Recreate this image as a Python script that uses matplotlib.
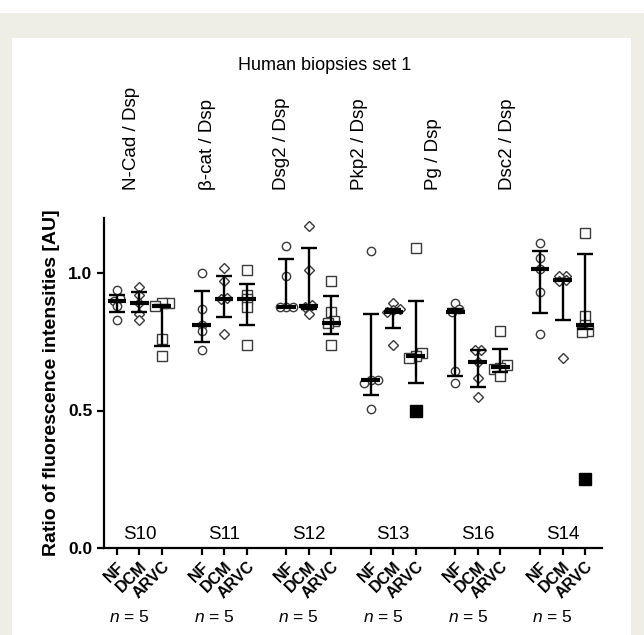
import matplotlib
matplotlib.use("Agg")
import matplotlib.pyplot as plt
import matplotlib.transforms as mtransforms
from matplotlib.patches import Rectangle
import numpy as np

plt.rcParams['font.family'] = ['Liberation Sans', 'DejaVu Sans']
plt.rcParams['mathtext.fontset'] = 'custom'
plt.rcParams['mathtext.it'] = 'Liberation Sans:italic'
plt.rcParams['mathtext.rm'] = 'Liberation Sans'

# Data
samples = ['S10', 'S11', 'S12', 'S13', 'S16', 'S14']
ratios = ['N-Cad / Dsp', 'β-cat / Dsp', 'Dsg2 / Dsp', 'Pkp2 / Dsp', 'Pg / Dsp', 'Dsc2 / Dsp']
conditions = ['NF', 'DCM', 'ARVC']

nf_values = [
    [0.94, 0.91, 0.90, 0.88, 0.83],
    [1.00, 0.87, 0.81, 0.79, 0.72],
    [1.10, 0.99, 0.875, 0.875, 0.875],
    [1.08, 0.61, 0.61, 0.60, 0.505],
    [0.89, 0.87, 0.86, 0.645, 0.60],
    [1.11, 1.055, 1.015, 0.93, 0.78],
]
dcm_values = [
    [0.95, 0.92, 0.89, 0.85, 0.83],
    [1.02, 0.97, 0.91, 0.905, 0.78],
    [1.17, 1.01, 0.885, 0.875, 0.85],
    [0.89, 0.87, 0.865, 0.86, 0.74],
    [0.72, 0.72, 0.675, 0.62, 0.55],
    [0.99, 0.99, 0.975, 0.97, 0.69],
]
arvc_values = [
    [0.89, 0.89, 0.88, 0.76, 0.70],
    [1.01, 0.92, 0.905, 0.875, 0.74],
    [0.97, 0.86, 0.825, 0.82, 0.74],
    [1.09, 0.71, 0.70, 0.69],
    [0.79, 0.665, 0.655, 0.65, 0.625],
    [1.145, 0.845, 0.81, 0.79, 0.785],
]
# filled squares (ARVC) shown separately
arvc_filled = [None, None, None, 0.50, None, 0.25]

# median and error bar limits, per sample: NF, DCM, ARVC
medians = [
    [0.90, 0.89, 0.88],
    [0.81, 0.905, 0.905],
    [0.875, 0.88, 0.82],
    [0.61, 0.86, 0.70],
    [0.86, 0.675, 0.66],
    [1.015, 0.975, 0.81],
]
err_low = [
    [0.86, 0.86, 0.735],
    [0.75, 0.84, 0.81],
    [0.875, 0.87, 0.78],
    [0.555, 0.80, 0.60],
    [0.625, 0.585, 0.64],
    [0.855, 0.83, 0.795],
]
err_high = [
    [0.92, 0.93, 0.885],
    [0.935, 0.99, 0.96],
    [1.05, 1.09, 0.915],
    [0.85, 0.87, 0.90],
    [0.87, 0.72, 0.725],
    [1.08, 0.98, 1.07],
]

markers = ['o', 'D', 's']
msizes = [6, 5.5, 6.5]
group_step = 3.77


def swarm(vals, tol=0.012, step=0.3):
    # spread points that overlap vertically
    vals = np.asarray(vals)
    order = np.argsort(vals)
    offs = np.zeros(len(vals))
    clusters = [[order[0]]]
    for k in order[1:]:
        if vals[k] - vals[clusters[-1][-1]] < tol:
            clusters[-1].append(k)
        else:
            clusters.append([k])
    for c in clusters:
        n = len(c)
        for j, k in enumerate(c):
            offs[k] = (j - (n - 1) / 2) * step
    return offs


fig = plt.figure(figsize=(6.44, 6.35), dpi=100)
W, H = 644, 635
fig.patches.append(Rectangle((0, 0), 1, (H - 13) / H, transform=fig.transFigure,
                             facecolor='#eeeee6', edgecolor='none', zorder=-10))
fig.patches.append(Rectangle((12 / W, 0), (631 - 12) / W, (H - 38) / H, transform=fig.transFigure,
                             facecolor='white', edgecolor='none', zorder=-9))

ax = fig.add_axes([104 / W, (H - 548) / H, 498 / W, 330 / H])
ax.set_facecolor('none')

all_vals = [nf_values, dcm_values, arvc_values]
xticks = []
for g in range(len(samples)):
    for i in range(3):
        x = g * group_step + i
        xticks.append(x)
        vals = all_vals[i][g]
        xo = x + swarm(vals)
        ax.plot(xo, vals, linestyle='none', marker=markers[i], ms=msizes[i],
                mfc='white', mec='#3a3a3a', mew=1.0, zorder=2)
        med = medians[g][i]
        ax.errorbar(x, med, yerr=[[med - err_low[g][i]], [err_high[g][i] - med]],
                    fmt='none', ecolor='black', elinewidth=1.7, capsize=6, capthick=1.7, zorder=3)
        ax.plot([x - 0.42, x + 0.42], [med, med], color='black', lw=3,
                solid_capstyle='butt', zorder=4)
    if arvc_filled[g] is not None:
        ax.plot(g * group_step + 2, arvc_filled[g], linestyle='none', marker='s',
                ms=9, color='black', zorder=4)
    ax.text(g * group_step + 1, 0.05, samples[g], ha='center', va='center', fontsize=13.5)

ax.set_ylim(0, 1.2)
ax.set_xlim(-0.58, 5 * group_step + 2 + 0.76)
ax.set_yticks([0, 0.5, 1.0])
ax.set_yticklabels(['0.0', '0.5', '1.0'], fontweight='bold', fontsize=12.5)
ax.set_xticks(xticks)
ax.set_xticklabels(conditions * len(samples), rotation=45, ha='right',
                   rotation_mode='anchor', fontweight='bold', fontsize=11.5)
shift = mtransforms.ScaledTranslation(7 / 100, -2 / 100, fig.dpi_scale_trans)
for lab in ax.get_xticklabels():
    lab.set_transform(lab.get_transform() + shift)
ax.set_ylabel('Ratio of fluorescence intensities [AU]', fontweight='bold', fontsize=14, labelpad=6)

for side in ['top', 'right']:
    ax.spines[side].set_visible(False)
for side in ['left', 'bottom']:
    ax.spines[side].set_linewidth(1.6)
ax.tick_params(axis='both', direction='out', length=5, width=1.6, colors='black')
ax.tick_params(axis='x', pad=3)

# titles above the plot
fig.text(325 / W, 1 - 65 / H, 'Human biopsies set 1', ha='center', va='center', fontsize=13)
label_x = [132, 207, 282, 360, 433, 508]
for lx, r in zip(label_x, ratios):
    fig.text(lx / W, 1 - 190 / H, r, rotation=90, ha='center', va='bottom', fontsize=13.5)

# n = 5 under each group
trans = mtransforms.blended_transform_factory(ax.transData, fig.transFigure)
for g in range(len(samples)):
    ax.text(g * group_step + 1 - 0.45, 1 - 617 / H, '$n$ = 5', transform=trans,
            ha='center', va='center', fontsize=12.5)

plt.savefig('out.png', dpi=100)
